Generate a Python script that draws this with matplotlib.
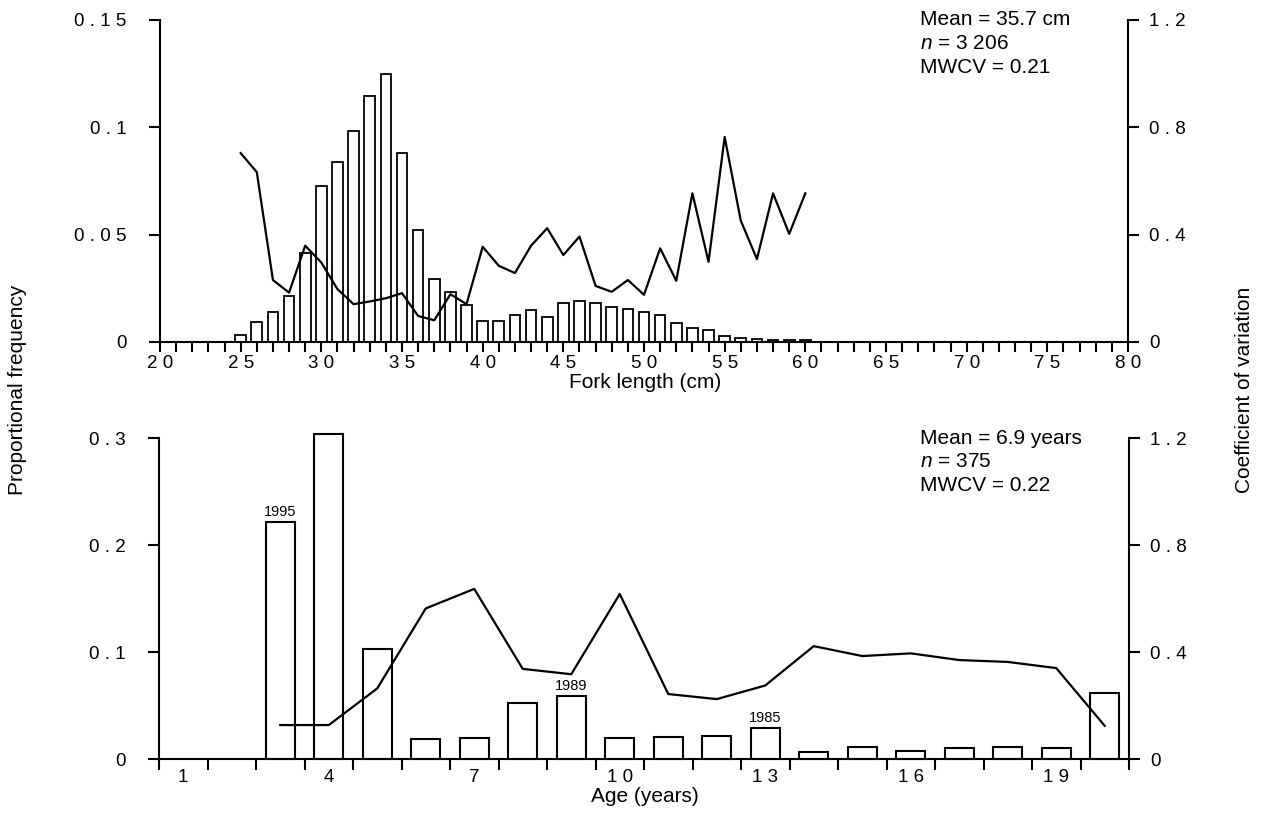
import matplotlib
matplotlib.use("Agg")
import matplotlib.pyplot as plt
import numpy as np

plt.rcParams['font.family'] = ['Liberation Sans', 'DejaVu Sans']
plt.rcParams['mathtext.fontset'] = 'custom'
plt.rcParams['mathtext.it'] = 'Liberation Sans:italic'
plt.rcParams['mathtext.rm'] = 'Liberation Sans'

# ---- Length composition (1 cm classes) ----
length_cm = list(range(25, 61))
length_freq = [0.0033, 0.0093, 0.0140, 0.0214, 0.0413, 0.0727, 0.0838, 0.0983,
               0.1146, 0.1248, 0.0879, 0.0520, 0.0295, 0.0231, 0.0174, 0.0098,
               0.0098, 0.0127, 0.0148, 0.0116, 0.0182, 0.0192, 0.0183, 0.0162,
               0.0152, 0.0139, 0.0126, 0.0090, 0.0064, 0.0056, 0.0028, 0.0018,
               0.0013, 0.0009, 0.0008, 0.0008]
length_cv = [0.704, 0.633, 0.231, 0.184, 0.359, 0.296, 0.197, 0.141, 0.151,
             0.163, 0.182, 0.097, 0.081, 0.178, 0.141, 0.355, 0.284, 0.257,
             0.359, 0.424, 0.324, 0.393, 0.209, 0.187, 0.231, 0.176, 0.349,
             0.228, 0.554, 0.299, 0.764, 0.452, 0.309, 0.554, 0.403, 0.554]
length_ticks = [20, 25, 30, 35, 40, 45, 50, 55, 60, 65, 70, 75, 80]
length_yticks = ["0", "0.05", "0.1", "0.15"]
length_stats = ["Mean = 35.7 cm", r"$n$ = 3 206", "MWCV = 0.21"]

# ---- Age composition ----
age_years = list(range(3, 21))
age_freq = [0.222, 0.304, 0.103, 0.019, 0.020, 0.053, 0.059, 0.020, 0.021,
            0.022, 0.029, 0.0065, 0.0118, 0.0078, 0.0109, 0.0118, 0.0109, 0.0623]
age_cv = [0.128, 0.128, 0.265, 0.564, 0.637, 0.338, 0.318, 0.618, 0.244,
          0.225, 0.276, 0.423, 0.386, 0.396, 0.371, 0.364, 0.341, 0.125]
age_ticks = [1, 4, 7, 10, 13, 16, 19]
age_yticks = ["0", "0.1", "0.2", "0.3"]
age_stats = ["Mean = 6.9 years", r"$n$ = 375", "MWCV = 0.22"]
cohort_year = {3: "1995", 9: "1989", 13: "1985"}

cv_ticks = ["0", "0.4", "0.8", "1.2"]


def spaced(s):
    return " ".join(s)


W, H = 1265, 832
fig = plt.figure(figsize=(W / 100, H / 100), dpi=100)
LW = 1.5
FS = 13.5      # tick labels
FT = 15        # titles and statistics


def frame(ax, twin):
    for a in (ax, twin):
        a.spines['top'].set_visible(False)
        for s in a.spines.values():
            s.set_linewidth(LW)
    twin.spines['left'].set_visible(False)
    twin.spines['bottom'].set_visible(False)
    ax.spines['right'].set_visible(False)
    ax.tick_params(axis='y', direction='out', length=8, width=LW, pad=16, labelsize=FS)
    twin.tick_params(axis='y', direction='out', length=8, width=LW, pad=7, labelsize=FS)
    twin.set_ylim(0, 1.2)
    twin.set_yticks([float(t) for t in cv_ticks])
    twin.set_yticklabels([spaced(t) for t in cv_ticks])


# ---------------- top panel ----------------
ax1 = fig.add_axes([160 / W, 1 - 342 / H, 968 / W, 322 / H])
tw1 = ax1.twinx()
frame(ax1, tw1)
ax1.bar(length_cm, length_freq, width=0.66, color='white', edgecolor='black',
        linewidth=1.3, clip_on=False)
tw1.plot(length_cm, length_cv, color='black', linewidth=1.6)
ax1.set_xlim(20, 80)
ax1.set_ylim(0, 0.15)
ax1.set_xticks(length_ticks)
ax1.set_xticklabels([spaced(str(t)) for t in length_ticks])
ax1.set_xticks(range(20, 81), minor=True)
ax1.tick_params(axis='x', which='both', direction='out', length=7, width=LW,
                pad=2.5, labelsize=FS)
ax1.set_yticks([float(t) for t in length_yticks])
ax1.set_yticklabels([spaced(t) for t in length_yticks])
for i, s in enumerate(length_stats):
    ax1.text(0.785, 1.0 - i * 0.073, s, transform=ax1.transAxes,
             fontsize=FT, ha='left', va='center')

# ---------------- bottom panel ----------------
ax2 = fig.add_axes([159 / W, 1 - 759.3 / H, 970 / W, 321 / H])
tw2 = ax2.twinx()
frame(ax2, tw2)
ax2.bar(age_years, age_freq, width=0.6, color='white', edgecolor='black',
        linewidth=1.5, clip_on=False)
tw2.plot(age_years, age_cv, color='black', linewidth=1.6)
ax2.set_xlim(0.5, 20.5)
ax2.set_ylim(0, 0.3)
ax2.set_xticks(age_ticks)
ax2.set_xticklabels([spaced(str(t)) for t in age_ticks])
ax2.tick_params(axis='x', which='major', length=0, pad=7, labelsize=FS)
ax2.set_xticks(np.arange(0.5, 20.6, 1.0), minor=True)
ax2.tick_params(axis='x', which='minor', direction='out', length=8, width=LW)
ax2.set_yticks([float(t) for t in age_yticks])
ax2.set_yticklabels([spaced(t) for t in age_yticks])
for age, yr in cohort_year.items():
    f = age_freq[age_years.index(age)]
    ax2.annotate(yr, (age, f), xytext=(0, 2), textcoords='offset points',
                 ha='center', va='bottom', fontsize=10.5)
for i, s in enumerate(age_stats):
    ax2.text(0.7845, 1.0 - i * 0.073, s, transform=ax2.transAxes,
             fontsize=FT, ha='left', va='center')

# ---------------- axis titles ----------------
fig.text(645 / W, 1 - 383 / H, "Fork length (cm)", ha='center', va='center', fontsize=FT)
fig.text(645 / W, 1 - 797 / H, "Age (years)", ha='center', va='center', fontsize=FT)
fig.text(18 / W, 1 - 390 / H, "Proportional frequency", rotation=90,
         ha='center', va='center', fontsize=FT)
fig.text(1245 / W, 1 - 390 / H, "Coefficient of variation", rotation=90,
         ha='center', va='center', fontsize=FT)

fig.savefig("out.png", dpi=100)
